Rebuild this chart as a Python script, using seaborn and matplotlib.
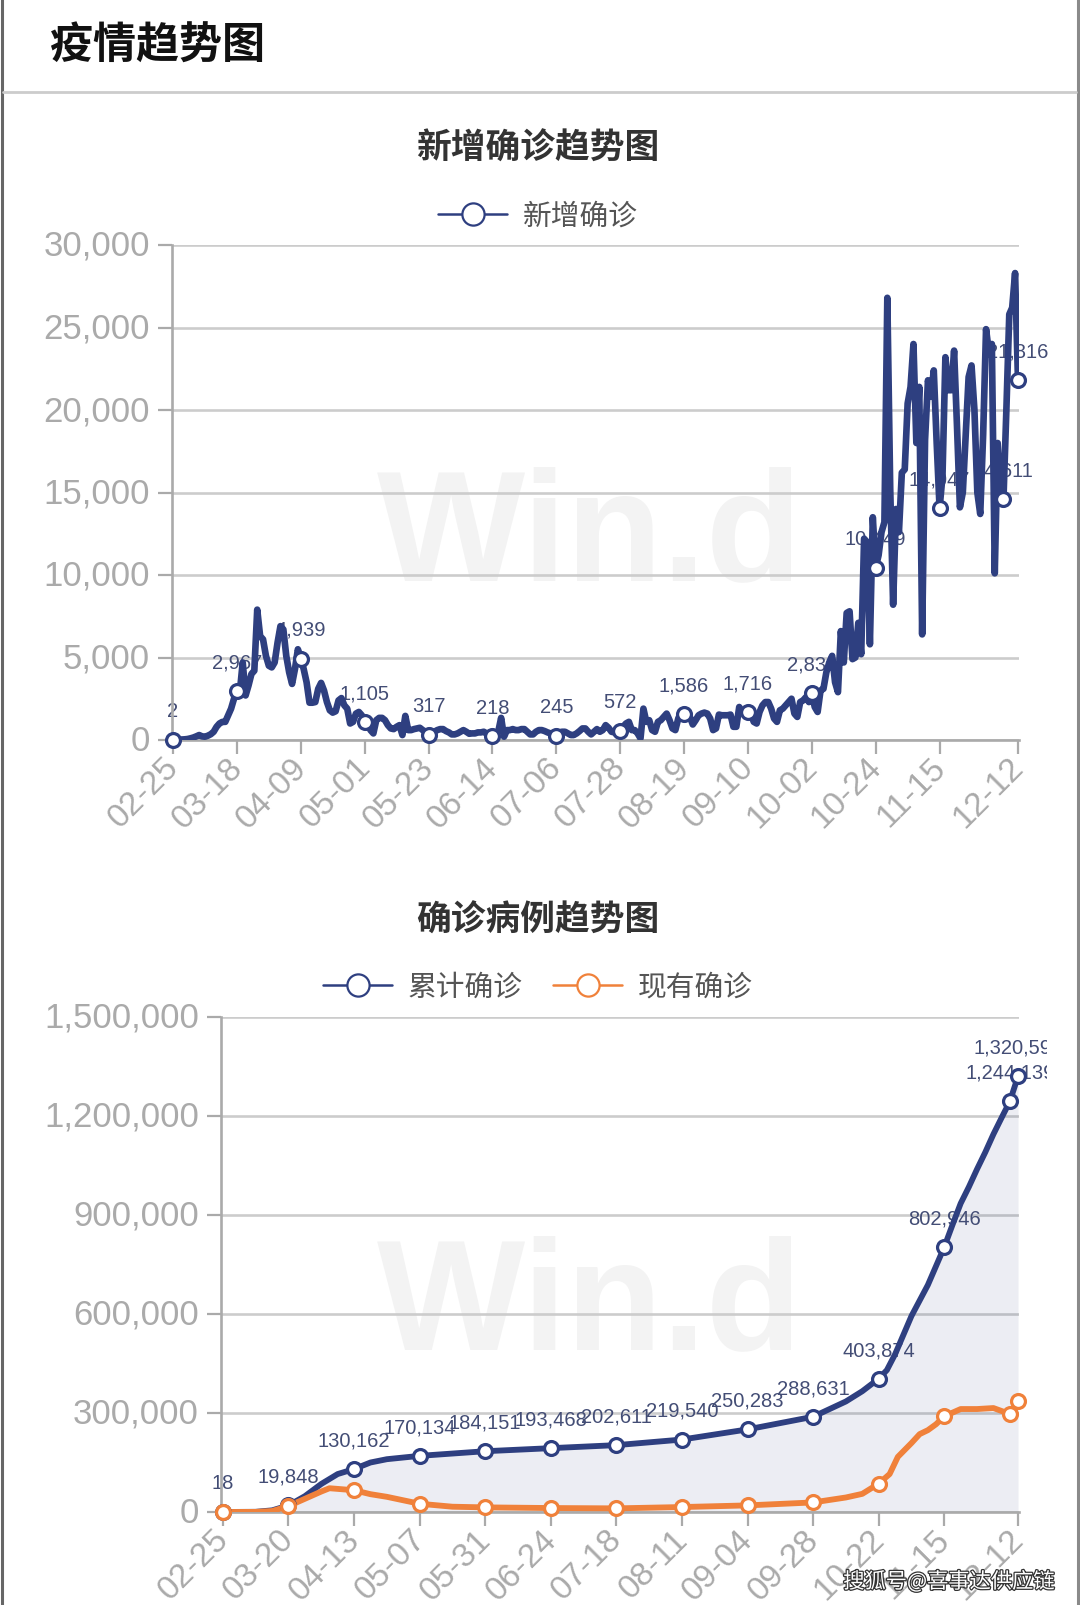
import matplotlib
matplotlib.use("Agg")
import matplotlib.pyplot as plt
import matplotlib.patheffects as pe
from matplotlib.lines import Line2D
from matplotlib.transforms import Bbox, IdentityTransform, TransformedBbox, ScaledTranslation
import seaborn as sns

# Series
NEW_CASES = [
    2, 20, 30, 30, 40, 60, 100, 150, 220, 300,
    220, 200, 260, 350, 500, 800, 1000, 1100, 1100, 1500,
    1900, 2500, 2967, 2900, 4700, 2700, 3300, 4000, 4200, 7900,
    6300, 6100, 5100, 4500, 4400, 4700, 5900, 6900, 6700, 5100,
    4100, 3400, 4300, 5500, 4939, 4300, 3500, 2260, 2260, 2300,
    3100, 3460, 3000, 2300, 1800, 1660, 1740, 2400, 2540, 2100,
    1900, 1000, 1100, 1600, 1700, 1500, 1105, 1000, 600, 400,
    1200, 1340, 1340, 1200, 900, 700, 660, 800, 900, 300,
    1460, 600, 600, 660, 700, 740, 600, 500, 317, 400,
    500, 600, 660, 660, 540, 460, 340, 340, 400, 500,
    600, 500, 380, 400, 400, 460, 460, 500, 400, 340,
    218, 400, 500, 1340, 200, 600, 600, 660, 600, 600,
    660, 660, 500, 340, 340, 500, 600, 600, 540, 460,
    400, 340, 245, 460, 500, 500, 400, 300, 300, 400,
    540, 700, 700, 500, 340, 500, 660, 500, 600, 900,
    740, 500, 460, 500, 572, 800, 1000, 1100, 600, 600,
    400, 100, 1900, 1100, 1200, 600, 500, 1100, 1200, 1400,
    1600, 1200, 700, 600, 1300, 1700, 1586, 1600, 1400, 940,
    1200, 1500, 1600, 1660, 1600, 1300, 600, 700, 1540, 1500,
    1500, 1500, 1540, 800, 800, 2000, 1700, 1600, 1716, 1600,
    1100, 1000, 1700, 2100, 2300, 2300, 1900, 1300, 1100, 1800,
    1900, 2100, 2300, 2500, 1600, 1400, 2300, 2400, 2600, 2300,
    2833, 2000, 1700, 3000, 3100, 4100, 4700, 5100, 3500, 2900,
    6600, 4700, 7700, 7800, 4900, 5000, 7100, 5200, 12200, 12000,
    5800, 13500, 10449, 11200, 12600, 13200, 26800, 15200, 8200, 14000,
    12600, 16200, 16400, 20400, 21400, 24000, 18000, 21400, 6400, 18200,
    21800, 20800, 22400, 18000, 14047, 16000, 23200, 21200, 21200, 23600,
    19000, 14100, 15000, 18500, 22000, 22700, 20000, 15000, 13700, 18500,
    24900, 23500, 24000, 10100, 18000, 15000, 14611, 20000, 25800, 26200,
    28300, 21816,
]
NEW_MARK_DAYS = [0, 22, 44, 66, 88, 110, 132, 154, 176, 198, 220, 242, 264, 286, 291]
NEW_LABELS = ["2", "2,967", "4,939", "1,105", "317", "218", "245", "572", "1,586",
              "1,716", "2,833", "10,449", "14,047", "14,611", "21,816"]
NEW_TICK_DAYS = [0, 22, 44, 66, 88, 110, 132, 154, 176, 198, 220, 242, 264, 291]
NEW_TICK_LABELS = ["02-25", "03-18", "04-09", "05-01", "05-23", "06-14", "07-06",
                   "07-28", "08-19", "09-10", "10-02", "10-24", "11-15", "12-12"]

TOTAL_DAYS = [0, 12, 18, 24, 30, 36, 42, 48, 54, 60, 72, 96, 120, 144, 168, 192, 216,
              228, 234, 240, 243, 246, 252, 258, 264, 267, 270, 273, 276, 279, 282, 285, 288, 291]
TOTAL_CASES = [18, 600, 5000, 19848, 48000, 85000, 115000, 130162, 150000, 160000,
               170134, 184151, 193468, 202611, 219540, 250283, 288631,
               335000, 366000, 403874, 430000, 478000, 594000, 688000, 802946,
               870000, 935000, 985000, 1039000, 1090000, 1145000, 1195000, 1244139, 1320590]
ACTIVE_DAYS = [0, 12, 18, 24, 30, 36, 39, 48, 54, 60, 72, 84, 96, 120, 144, 168, 192, 216,
               228, 234, 240, 244, 247, 252, 255, 258, 261, 264, 270, 276, 282, 285, 288, 291]
ACTIVE_CASES = [18, 300, 3000, 18000, 40000, 62000, 72000, 66000, 54000, 46000, 25000,
                16000, 14000, 12000, 11000, 15000, 20000, 29000, 44000, 55000, 86000,
                115000, 167000, 209000, 236000, 248000, 266000, 290000, 312000, 312000,
                315000, 306000, 297000, 335000]
TOTAL_MARK_DAYS = [0, 24, 48, 72, 96, 120, 144, 168, 192, 216, 240, 264, 288, 291]
TOTAL_LABELS = ["18", "19,848", "130,162", "170,134", "184,151", "193,468", "202,611",
                "219,540", "250,283", "288,631", "403,874", "802,946", "1,244,139",
                "1,320,590"]
TOTAL_TICK_DAYS = [0, 24, 48, 72, 96, 120, 144, 168, 192, 216, 240, 264, 291]
TOTAL_TICK_LABELS = ["02-25", "03-20", "04-13", "05-07", "05-31", "06-24", "07-18",
                     "08-11", "09-04", "09-28", "10-22", "11-15", "12-12"]

NEW_YTICKS = [0, 5000, 10000, 15000, 20000, 25000, 30000]
TOTAL_YTICKS = [0, 300000, 600000, 900000, 1200000, 1500000]

NAVY = "#2e3f80"
ORANGE = "#f0813a"
AXIS = "#aaaaaa"
GRID = "#cccccc"
LABEL = "#434d75"
CJK = ["Noto Sans CJK SC", "DejaVu Sans"]
W, H = 1080, 1606

sns.set_theme(style="white")
plt.rcParams["font.family"] = ["Liberation Sans", "Noto Sans CJK SC"]


def px_axes(fig, left, right, top, bottom):
    return fig.add_axes([left / W, 1 - bottom / H, (right - left) / W, (bottom - top) / H])


def style_axis(ax, tick_days, tick_labels, yticks, x_pad):
    ax.set_xlim(-x_pad, 291 + x_pad)
    ax.set_ylim(yticks[0], yticks[-1])
    ax.set_xticks(tick_days, tick_labels, rotation=45, ha="right", va="top", rotation_mode="anchor")
    ax.set_yticks(yticks, [f"{v:,}" for v in yticks])
    ax.tick_params(axis="both", length=10, width=1.6, color=AXIS, labelcolor=AXIS, labelsize=25, pad=6,
                   left=True, bottom=True)
    ax.tick_params(axis="x", labelsize=24)
    # labels sit a little off matplotlib's default anchor in the reference
    shift_x = ScaledTranslation(-10 / 100, 11 / 100, ax.figure.dpi_scale_trans)
    for label in ax.get_xticklabels():
        label.set_transform(label.get_transform() + shift_x)
    shift_y = ScaledTranslation(0, 3 / 100, ax.figure.dpi_scale_trans)
    for label in ax.get_yticklabels():
        label.set_transform(label.get_transform() + shift_y)
    ax.set_axisbelow(True)
    ax.grid(axis="y", color=GRID, linewidth=1.9)
    ax.grid(axis="x", visible=False)
    sns.despine(ax=ax)
    for side in ["left", "bottom"]:
        ax.spines[side].set_color(AXIS)
        ax.spines[side].set_linewidth(1.9)
    ax.set_xlabel("")
    ax.set_ylabel("")


def draw_series(ax, days, values, mark_days, mark_values, color, width):
    sns.lineplot(x=days, y=values, ax=ax, color=color, linewidth=width, errorbar=None,
                 legend=False, solid_joinstyle="round", solid_capstyle="round", zorder=3)
    sns.scatterplot(x=mark_days, y=mark_values, ax=ax, s=100, color="white", edgecolor=color,
                    linewidth=2.3, legend=False, zorder=4, clip_on=False)


def add_labels(ax, days, values, labels, clip_right=None):
    for d, v, s in zip(days, values, labels):
        t = ax.annotate(s, (d, v), xytext=(0, 21), textcoords="offset points", ha="center",
                        va="center", fontsize=14.5, color=LABEL, zorder=2, annotation_clip=False)
        if clip_right:
            t.set_clip_on(True)
            t.set_clip_box(TransformedBbox(Bbox([[0, 0], [clip_right, H]]), IdentityTransform()))


def add_legend(ax, names, colors, y):
    handles = [Line2D([], [], color=c, linewidth=1.8, marker="o", markersize=16, markerfacecolor="white",
                      markeredgecolor=c, markeredgewidth=1.6, label=n) for n, c in zip(names, colors)]
    ax.legend(handles=handles, loc="center", bbox_to_anchor=(538 / W, 1 - y / H),
              bbox_transform=ax.figure.transFigure, ncols=len(handles), frameon=False,
              prop={"family": CJK, "size": 20.7}, labelcolor="#555555", handlelength=2.4,
              handletextpad=0.55, columnspacing=1.05, borderpad=0, borderaxespad=0)


fig = plt.figure(figsize=(W / 100, H / 100), dpi=100, facecolor="white")

# frame and header
fig.add_artist(Line2D([1.5 / W, 1.5 / W], [0, 1], color="#666666", linewidth=2.2))
fig.add_artist(Line2D([1077.5 / W, 1077.5 / W], [0, 1], color="#8a8a8a", linewidth=2.2))
fig.add_artist(Line2D([3 / W, 1076 / W], [1 - 93 / H, 1 - 93 / H], color="#cccccc", linewidth=2))
fig.text(50 / W, 1 - 46 / H, "疫情趋势图", family=CJK, fontsize=31, fontweight="bold", color="#111111",
         ha="left", va="center")

# new cases
ax1 = px_axes(fig, 172, 1019, 246, 741)
ax1.text(590 / W, 1 - 540 / H, "Win.d", transform=fig.transFigure, fontsize=113, fontweight="bold",
         color="#f3f3f3", ha="center", va="center", zorder=0.1)
style_axis(ax1, NEW_TICK_DAYS, NEW_TICK_LABELS, NEW_YTICKS, 0.35)
new_days = list(range(len(NEW_CASES)))
new_marks = [NEW_CASES[d] for d in NEW_MARK_DAYS]
add_labels(ax1, NEW_MARK_DAYS, new_marks, NEW_LABELS)
draw_series(ax1, new_days, NEW_CASES, NEW_MARK_DAYS, new_marks, NAVY, 4.8)
add_legend(ax1, ["新增确诊"], [NAVY], 217)
fig.text(538 / W, 1 - 148 / H, "新增确诊趋势图", family=CJK, fontsize=25, fontweight="bold", color="#333333",
         ha="center", va="center")

# cumulative and active cases
ax2 = px_axes(fig, 221, 1019, 1018, 1513)
ax2.text(590 / W, 1 - 1309 / H, "Win.d", transform=fig.transFigure, fontsize=113, fontweight="bold",
         color="#f3f3f3", ha="center", va="center", zorder=0.1)
style_axis(ax2, TOTAL_TICK_DAYS, TOTAL_TICK_LABELS, TOTAL_YTICKS, 0.37)
ax2.set_xlim(-0.7, 291.35)
ax2.fill_between(TOTAL_DAYS, TOTAL_CASES, color=NAVY, alpha=0.09, linewidth=0, zorder=1)
total_marks = [TOTAL_CASES[TOTAL_DAYS.index(d)] for d in TOTAL_MARK_DAYS]
active_marks = [ACTIVE_CASES[ACTIVE_DAYS.index(d)] for d in TOTAL_MARK_DAYS]
add_labels(ax2, TOTAL_MARK_DAYS, total_marks, TOTAL_LABELS, clip_right=1047)
draw_series(ax2, TOTAL_DAYS, TOTAL_CASES, TOTAL_MARK_DAYS, total_marks, NAVY, 4.2)
draw_series(ax2, ACTIVE_DAYS, ACTIVE_CASES, TOTAL_MARK_DAYS, active_marks, ORANGE, 4.2)
add_legend(ax2, ["累计确诊", "现有确诊"], [NAVY, ORANGE], 988)
fig.text(538 / W, 1 - 920 / H, "确诊病例趋势图", family=CJK, fontsize=25, fontweight="bold", color="#333333",
         ha="center", va="center")

# site stamp over the bottom right corner
fig.text(949 / W, 1 - 1583 / H, "搜狐号@喜事达供应链", family=CJK, fontsize=15.3, color="white", ha="center", va="center",
         zorder=20, path_effects=[pe.withStroke(linewidth=1.8, foreground="#333333")])

fig.savefig("out.png", dpi=100)
